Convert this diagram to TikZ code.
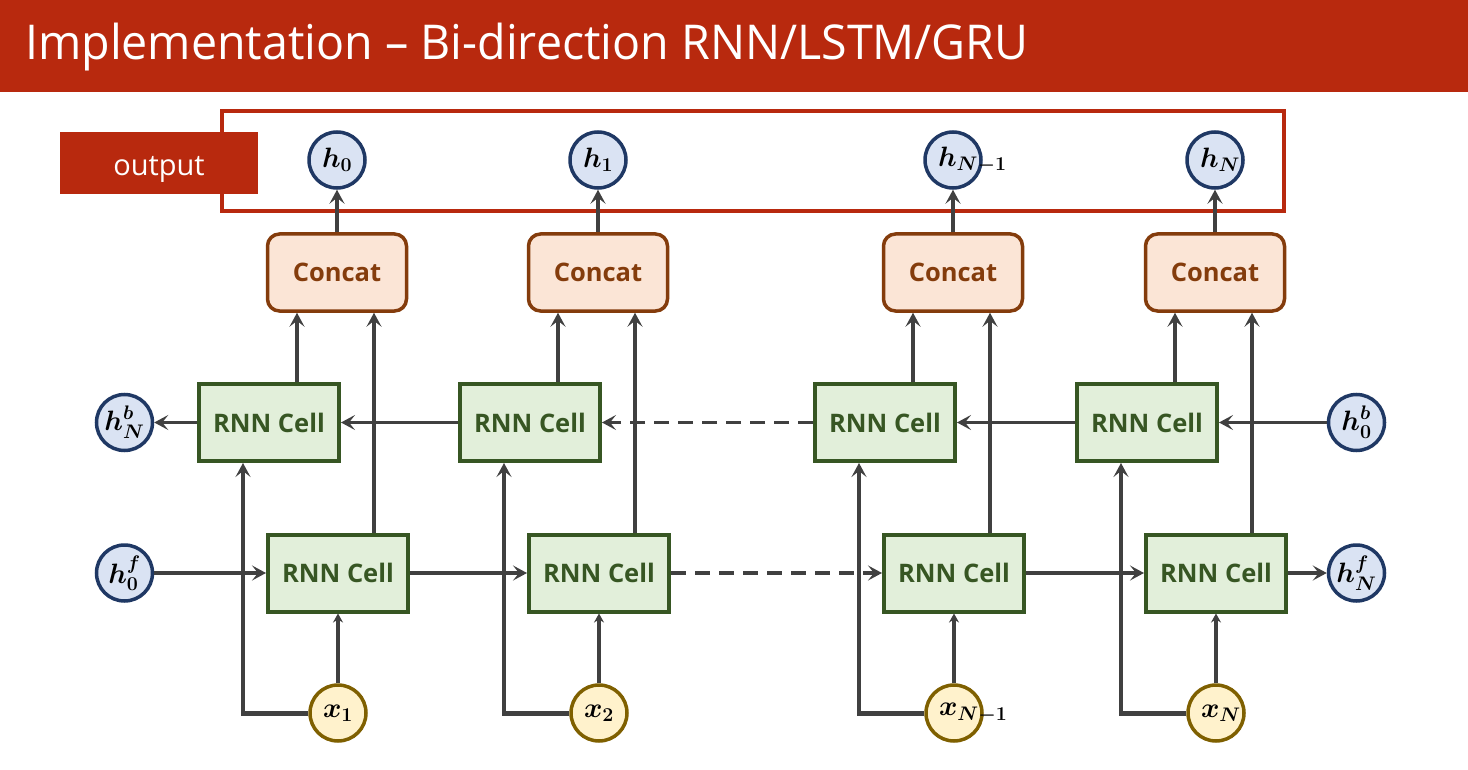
\RequirePackage{fix-cm}
\documentclass[tikz,border=0pt]{standalone}
\usepackage{amsmath}
\usepackage{fontspec}
\setmainfont{Open Sans}
\usetikzlibrary{arrows.meta}
\definecolor{titlered}{RGB}{184,41,14}
\definecolor{linegray}{RGB}{64,64,64}
\definecolor{hfill}{RGB}{218,227,243}
\definecolor{hborder}{RGB}{31,56,100}
\definecolor{xfill}{RGB}{255,242,204}
\definecolor{xborder}{RGB}{127,96,0}
\definecolor{cellfill}{RGB}{226,239,218}
\definecolor{cellborder}{RGB}{55,86,35}
\definecolor{catfill}{RGB}{251,229,214}
\definecolor{catborder}{RGB}{132,60,12}
\begin{document}
\begin{tikzpicture}[x=1pt,y=-1pt,
  conn/.style={draw=linegray, line width=3.2pt, -{Stealth[length=14pt,width=15pt,inset=6pt]}},
  smallconn/.style={draw=linegray, line width=3.2pt, -{Stealth[length=9pt,width=10pt,inset=3pt]}},
  thickline/.style={draw=linegray, line width=5pt},
  cellbox/.style={draw=cellborder, fill=cellfill, line width=4pt, minimum width=140pt, minimum height=77pt, inner sep=0pt, font=\fontsize{25.5}{30}\selectfont\bfseries, text=cellborder},
  catbox/.style={draw=catborder, fill=catfill, line width=3.5pt, rounded corners=12pt, minimum width=139pt, minimum height=77pt, inner sep=0pt, font=\fontsize{25.5}{30}\selectfont\bfseries, text=catborder},
  hnode/.style={circle, draw=hborder, fill=hfill, line width=3.5pt, minimum size=56pt, inner sep=0pt, font=\fontsize{28}{32}\selectfont},
  xnode/.style={circle, draw=xborder, fill=xfill, line width=3.5pt, minimum size=56pt, inner sep=0pt, font=\fontsize{28}{32}\selectfont},
  dashedconn/.style={conn, dash pattern=on 15pt off 9pt}
]
\useasboundingbox (0,0) rectangle (1468,770);
\fill[white] (0,0) rectangle (1468,770);
% title bar
\fill[titlered] (0,0) rectangle (1468,92);
\node (title) [anchor=base west, inner sep=0pt, text=white, font=\fontsize{48}{56}\selectfont] at (25,60) {\scalebox{0.97}[1]{Implementation -- Bi-direction RNN/LSTM/GRU}};
% output box
\node (outbox) [draw=titlered, line width=4pt, minimum width=1062pt, minimum height=100pt, inner sep=0pt] at (753,161) {};
\node (outlab) [fill=titlered, minimum width=198pt, minimum height=62pt, inner sep=0pt, text height=25pt, text depth=0pt, text=white, font=\fontsize{29}{34}\selectfont] at (159,163) {output};
% columns
\foreach \i/\c/\hl/\xl in {1/337/{h_0}/{x_1}, 2/598/{h_1}/{x_2}, 3/953/{h_{N-1}}/{x_{N-1}}, 4/1215/{h_N}/{x_N}} {
  \node (h\i) [hnode] at (\c,160) {\makebox[30pt][l]{$\boldsymbol{\hl}$}};
  \node (c\i) [catbox] at (\c,272.5) {Concat};
  \node (b\i) [cellbox] at (\c-68,422.5) {RNN Cell};
  \node (f\i) [cellbox] at (\c+1,573) {RNN Cell};
  \node (x\i) [xnode] at (\c+1,713) {\makebox[30pt][l]{$\boldsymbol{\xl}$}};
  \coordinate (k\i) at (\c-94,713);
  \draw[conn] (c\i.north) -- (h\i.south);
  \draw[conn] ([xshift=-40pt]c\i.south |- b\i.north) -- ([xshift=-40pt]c\i.south);
  \draw[conn] ([xshift=37pt]c\i.south |- f\i.north) -- ([xshift=37pt]c\i.south);
  \draw[smallconn] (x\i.north) -- (f\i.south);
  \draw[thickline] (x\i.west) -- ([xshift=-1.6pt]k\i);
  \draw[conn] ([yshift=2.5pt]k\i) -- (k\i |- b\i.south);
}
% side states
\node (hNb) [hnode] at (124.5,422.5) {$\boldsymbol{h^b_N}$};
\node (h0b) [hnode] at (1356.5,422.5) {$\boldsymbol{h^b_0}$};
\node (h0f) [hnode] at (124.5,573) {$\boldsymbol{h^f_0}$};
\node (hNf) [hnode] at (1356.5,573) {$\boldsymbol{h^f_N}$};
% backward row
\draw[conn] (b1.west) -- (hNb.east);
\draw[conn] (b2.west) -- (b1.east);
\draw[dashedconn] (b3.west) -- (b2.east);
\draw[conn] (b4.west) -- (b3.east);
\draw[conn] (h0b.west) -- (b4.east);
% forward row
\draw[conn] (h0f.east) -- (f1.west);
\draw[conn] (f1.east) -- (f2.west);
\draw[dashedconn] (f2.east) -- (f3.west);
\draw[conn] (f3.east) -- (f4.west);
\draw[conn] (f4.east) -- (hNf.west);
\end{tikzpicture}
\end{document}
